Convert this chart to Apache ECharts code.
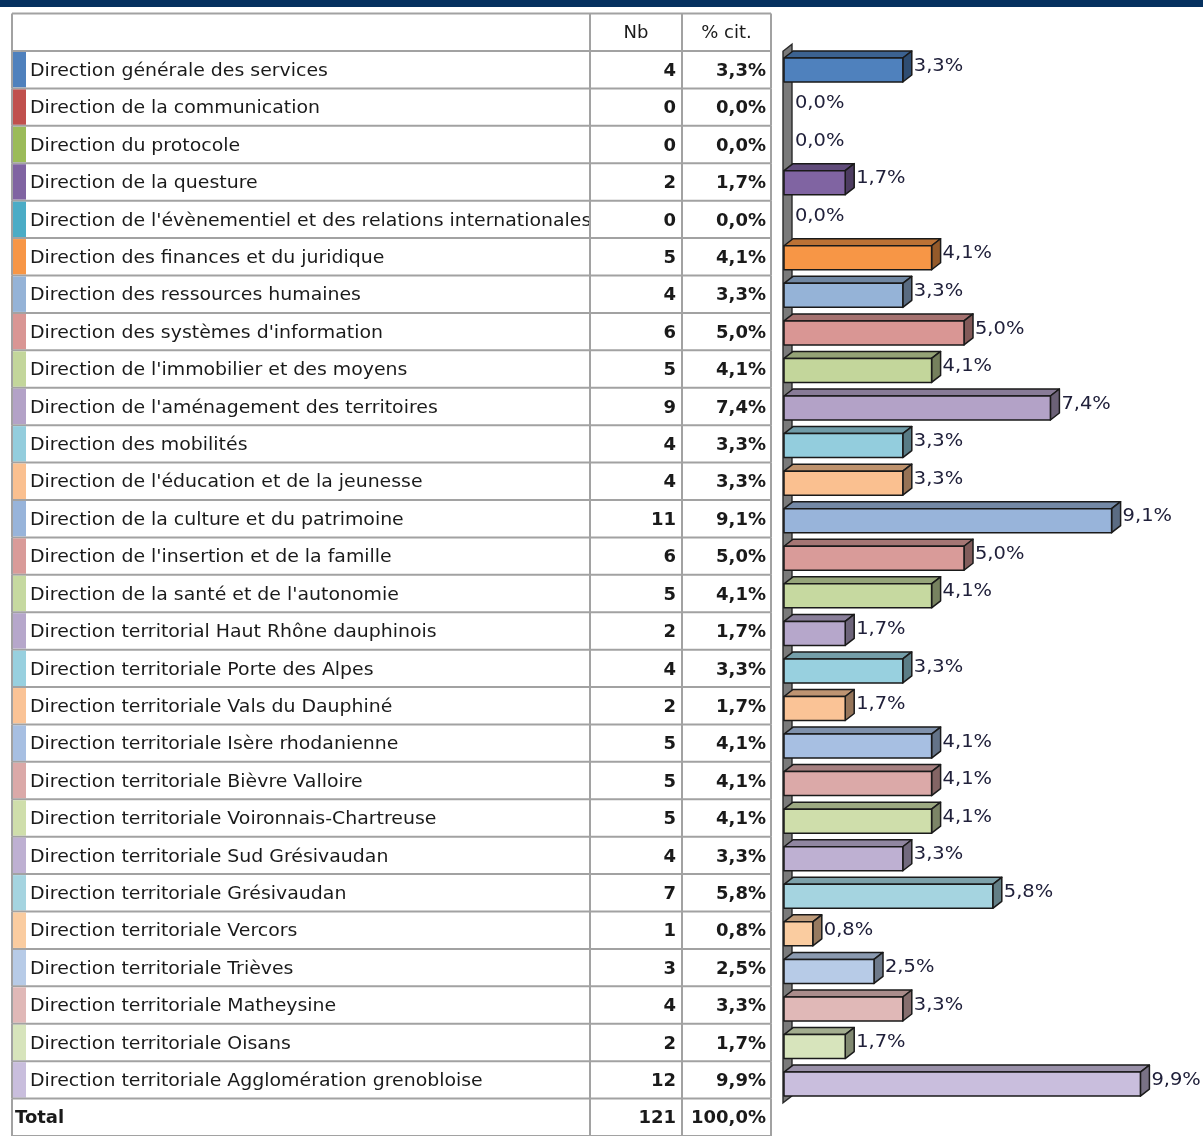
<!DOCTYPE html>
<html>
<head>
<meta charset="utf-8">
<script src="https://cdn.jsdelivr.net/npm/echarts@6/dist/echarts.min.js"></script>
<style>
html, body { margin: 0; padding: 0; background: #fff; }
#chart { width: 1203px; height: 1136px; }
</style>
</head>
<body>
<div id="chart"></div>
<script>
// données du tableau
const services = [
	"Direction générale des services",
	"Direction de la communication",
	"Direction du protocole",
	"Direction de la questure",
	"Direction de l'évènementiel et des relations internationales",
	"Direction des finances et du juridique",
	"Direction des ressources humaines",
	"Direction des systèmes d'information",
	"Direction de l'immobilier et des moyens",
	"Direction de l'aménagement des territoires",
	"Direction des mobilités",
	"Direction de l'éducation et de la jeunesse",
	"Direction de la culture et du patrimoine",
	"Direction de l'insertion et de la famille",
	"Direction de la santé et de l'autonomie",
	"Direction territorial Haut Rhône dauphinois",
	"Direction territoriale Porte des Alpes",
	"Direction territoriale Vals du Dauphiné",
	"Direction territoriale Isère rhodanienne",
	"Direction territoriale Bièvre Valloire",
	"Direction territoriale Voironnais-Chartreuse",
	"Direction territoriale Sud Grésivaudan",
	"Direction territoriale Grésivaudan",
	"Direction territoriale Vercors",
	"Direction territoriale Trièves",
	"Direction territoriale Matheysine",
	"Direction territoriale Oisans",
	"Direction territoriale Agglomération grenobloise"
];
const counts = [4, 0, 0, 2, 0, 5, 4, 6, 5, 9, 4, 4, 11, 6, 5, 2, 4, 2, 5, 5, 5, 4, 7, 1, 3, 4, 2, 12];
const percents = [3.3, 0.0, 0.0, 1.7, 0.0, 4.1, 3.3, 5.0, 4.1, 7.4, 3.3, 3.3, 9.1, 5.0, 4.1, 1.7, 3.3, 1.7, 4.1, 4.1, 4.1, 3.3, 5.8, 0.8, 2.5, 3.3, 1.7, 9.9];
const headers = ["Nb", "% cit."];
const totalLabel = "Total";
const totalCount = 121;
const totalPercent = 100.0;

// couleurs des séries
const palette = [
	"#4f81bd", "#c0504d", "#9bbb59", "#8064a2", "#4bacc6", "#f79646",
	"#95b3d7", "#d99694", "#c3d69b", "#b3a2c7", "#93cddd", "#fac090",
	"#98b4da", "#d99b99", "#c6d9a0", "#b6a7cb", "#98d0df", "#fac396",
	"#a7bfe2", "#dba9a8", "#cfdeab", "#beb0d2", "#a5d4e0", "#facca0",
	"#b7cbe7", "#e0b8b7", "#d7e4bc", "#c9bedd"
];

const FONT = '"DejaVu Sans", Verdana, sans-serif';
const lineColor = "#a2a2a2";
const textColor = "#1a1a1a";

function fmt(v) {
	return v.toFixed(1).replace(".", ",") + "%";
}

function shade(hex, f) {
	const n = parseInt(hex.slice(1), 16);
	const r = Math.round(((n >> 16) & 255) * f);
	const g = Math.round(((n >> 8) & 255) * f);
	const b = Math.round((n & 255) * f);
	return "rgb(" + r + "," + g + "," + b + ")";
}

const rows = [""].concat(services, [totalLabel]);
// bords des colonnes du tableau (axe x du tableau en pixels)
const colLeft = 12, colSquare = 26, colName = 590, colNb = 682, colPct = 771;

var myChart = echarts.init(document.getElementById("chart"));

function renderTableRow(params, api) {
	const i = api.value(1);
	const c = api.coord([colLeft, i]);
	const h = api.size([0, 1])[1];
	const top = c[1] - h / 2, bottom = c[1] + h / 2;
	const xs = [colLeft, colName, colNb, colPct].map(function (v) { return api.coord([v, i])[0]; });
	const children = [];
	const line = function (x1, y1, x2, y2) {
		children.push({ type: "line", shape: { x1: x1, y1: y1, x2: x2, y2: y2 }, style: { stroke: lineColor, lineWidth: 2 } });
	};
	const text = function (t, x, align, bold, sx) {
		children.push({
			type: "text",
			x: x, y: c[1] + 1.5,
			scaleX: sx || 1,
			style: { text: t, fill: textColor, font: (bold ? "bold " : "") + "18px " + FONT, align: align, verticalAlign: "middle" }
		});
	};
	if (i > 0 && i <= services.length) {
		const sq = api.coord([colSquare, i])[0];
		children.push({ type: "rect", shape: { x: xs[0] + 1, y: top + 1, width: sq - xs[0] - 1, height: h - 2 }, style: { fill: palette[i - 1] } });
		text(services[i - 1], sq + 4, "left", false, 1.05);
		text(String(counts[i - 1]), xs[2] - 6, "right", true);
		text(fmt(percents[i - 1]), xs[3] - 5, "right", true);
	} else if (i === 0) {
		text(headers[0], (xs[1] + xs[2]) / 2, "center", false);
		text(headers[1], (xs[2] + xs[3]) / 2, "center", false);
		line(xs[0], top, xs[3], top);
	} else {
		text(totalLabel, xs[0] + 3, "left", true);
		text(String(totalCount), xs[2] - 6, "right", true);
		text(fmt(totalPercent), xs[3] - 5, "right", true);
	}
	line(xs[0], bottom, xs[3], bottom);
	xs.forEach(function (x) { line(x, top, x, bottom); });
	return { type: "group", children: children };
}

const DX = 9, DY = 7, BAR_H = 24;
const edge = "#1a1a1a";

function renderBar(params, api) {
	const v = api.value(0);
	const i = api.value(1);
	const base = api.coord([0, i]);
	const end = api.coord([v, i]);
	const yc = base[1];
	const children = [];
	if (v > 0) {
		const x0 = base[0], x1 = end[0];
		const yt = yc - BAR_H / 2, yb = yc + BAR_H / 2;
		const col = palette[i];
		const st = { stroke: edge, lineWidth: 1.5, lineJoin: "round" };
		children.push({ type: "polygon", shape: { points: [[x0, yt], [x1, yt], [x1 + DX, yt - DY], [x0 + DX, yt - DY]] }, style: Object.assign({ fill: shade(col, 0.76) }, st) });
		children.push({ type: "polygon", shape: { points: [[x1, yt], [x1 + DX, yt - DY], [x1 + DX, yb - DY], [x1, yb]] }, style: Object.assign({ fill: shade(col, 0.6) }, st) });
		children.push({ type: "rect", shape: { x: x0, y: yt, width: x1 - x0, height: BAR_H }, style: Object.assign({ fill: col }, st) });
	}
	children.push({
		type: "text",
		x: end[0] + DX + 2, y: yc - 4,
		scaleX: 1.08,
		style: { text: fmt(v), fill: "#20203a", font: "18px " + FONT, align: "left", verticalAlign: "middle" }
	});
	return { type: "group", children: children };
}

function renderWall(params, api) {
	const cs = params.coordSys;
	const x = cs.x, top = cs.y, bottom = cs.y + cs.height;
	return {
		type: "polygon",
		shape: { points: [[x - 1, top], [x - 1 + DX, top - DY], [x - 1 + DX, bottom - DY], [x - 1, bottom]] },
		style: { fill: "#7a7a7a", stroke: "#2a2a2a", lineWidth: 1.4 }
	};
}

var option = {
	animation: false,
	graphic: [{
		type: "rect",
		shape: { x: 0, y: 0, width: 1203, height: 7 },
		style: { fill: "#06315f" }
	}],
	grid: [
		{ left: 0, width: 1203, top: 13.6, height: 37.56 * rows.length },
		{ left: 784, width: 360, top: 51.2, height: 37.56 * services.length }
	],
	xAxis: [
		{ gridIndex: 0, type: "value", min: 0, max: 1203, show: false },
		{ gridIndex: 1, type: "value", min: 0, max: 10, show: false }
	],
	yAxis: [
		{ gridIndex: 0, type: "category", data: rows, inverse: true, show: false },
		{ gridIndex: 1, type: "category", data: services, inverse: true, show: false }
	],
	series: [
		{
			type: "custom",
			xAxisIndex: 0, yAxisIndex: 0,
			renderItem: renderTableRow,
			data: rows.map(function (r, i) { return [0, i]; }),
			silent: true
		},
		{
			type: "custom",
			xAxisIndex: 1, yAxisIndex: 1,
			renderItem: renderWall,
			data: [[0, 0]],
			z: 1,
			silent: true
		},
		{
			type: "custom",
			xAxisIndex: 1, yAxisIndex: 1,
			renderItem: renderBar,
			encode: { x: 0, y: 1 },
			data: percents.map(function (v, i) { return [v, i]; }),
			z: 2,
			silent: true
		}
	]
};

myChart.setOption(option);
</script>
</body>
</html>
